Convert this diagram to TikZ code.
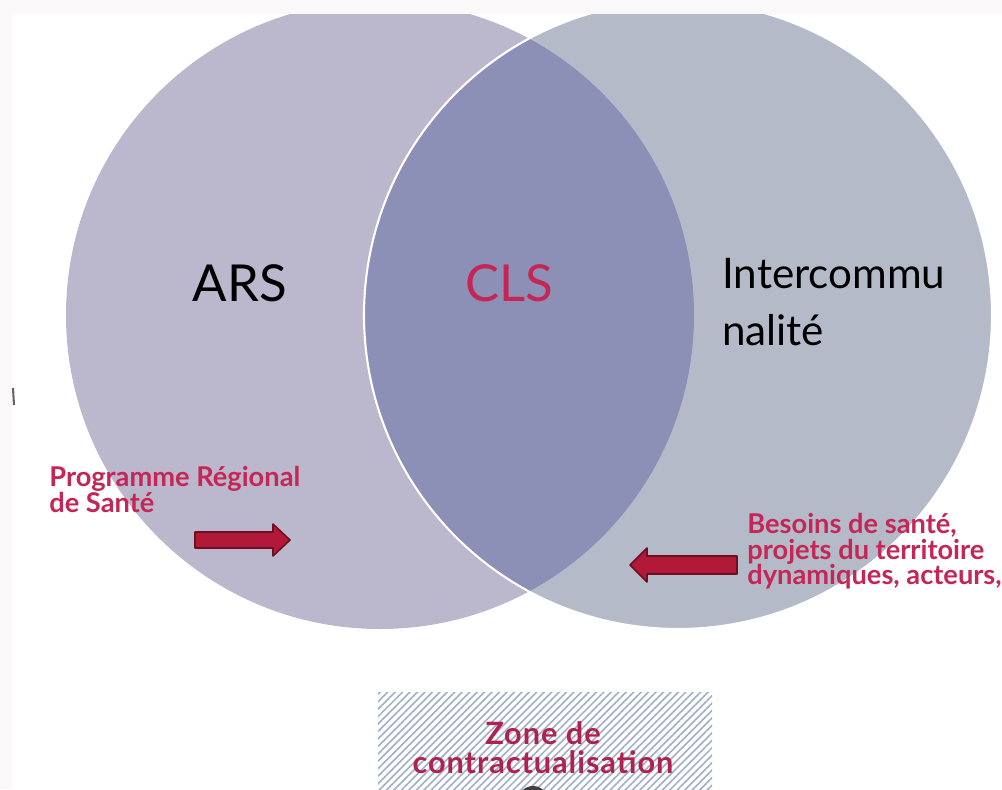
\documentclass[tikz,border=0pt]{standalone}
\usepackage{fontspec}
\setmainfont{Lato}
\usetikzlibrary{patterns.meta}
\definecolor{arsfill}{RGB}{187,183,204}
\definecolor{intfill}{RGB}{181,186,201}
\definecolor{clsfill}{RGB}{140,143,182}
\definecolor{textred}{RGB}{196,38,86}
\definecolor{arrowred}{RGB}{178,24,56}
\definecolor{arrowdark}{RGB}{110,14,34}
\definecolor{hatchblue}{RGB}{160,174,198}
\definecolor{offwhite}{RGB}{251,248,249}

\begin{document}
\begin{tikzpicture}[x=0.02cm, y=-0.02cm,
  bigname/.style={font=\fontsize{29}{34}\selectfont, inner sep=0pt},
  redlabel/.style={text=textred, font=\bfseries\fontsize{15.5}{14.6}\selectfont,
                   align=left, anchor=north west, inner sep=0pt},
  fatarrow/.style={fill=arrowred, draw=arrowdark, line width=0.9pt, line join=round},
  zonebox/.style={pattern={Lines[angle=45,distance=3pt,line width=0.9pt]},
                  pattern color=hatchblue}
]
\useasboundingbox (0,0) rectangle (1002,789);
\fill[offwhite] (0,0) rectangle (1002,789);
\fill[white] (12,14) rectangle (1002,789);
\coordinate (arsc) at (380,315);
\coordinate (intc) at (678,315);
\begin{scope}
  \clip (12,14) rectangle (1002,789);
  \fill[arsfill] (arsc) circle[radius=314];
  \fill[intfill] (intc) circle[radius=314];
  \begin{scope}
    \clip (arsc) circle[radius=314];
    \fill[clsfill] (intc) circle[radius=314];
  \end{scope}
  \draw[white, line width=1.2pt] (intc) circle[radius=314];
\end{scope}
\draw[black!60, line width=1.2pt] (13,388) -- (14,405);

\node[bigname] (ars) at (240,283) {ARS};
\node[bigname, text=textred] (cls) at (509,283) {CLS};
\node[font=\fontsize{24}{32.3}\selectfont, align=left, anchor=north west,
      inner sep=0pt] (interco) at (722,258) {Intercommu\\nalité};

\node[redlabel] (prs) at (49,466) {Programme Régional\\de Santé};
\node[redlabel] (besoins) at (747,513) {Besoins de santé,\\projets du territoire\\dynamiques, acteurs,};

\draw[fatarrow] (195,532) -- (273,532) -- (273,524) -- (290,540) -- (273,556)
  -- (273,548) -- (195,548) -- cycle;
\draw[fatarrow] (737,556) -- (647,556) -- (647,548) -- (630,565) -- (647,582)
  -- (647,574) -- (737,574) -- cycle;

\fill[zonebox] (378,692) rectangle (712,789);
\node[text=textred!90!black, font=\bfseries\fontsize{17.5}{16.5}\selectfont,
      align=center, anchor=north, inner sep=0pt] (zone) at (543,721)
      {\addfontfeature{LetterSpace=3}Zone de\\
       \addfontfeature{LetterSpace=3}contractualisation};
\fill[black!75] (533,801) circle[radius=15];
\end{tikzpicture}
\end{document}
